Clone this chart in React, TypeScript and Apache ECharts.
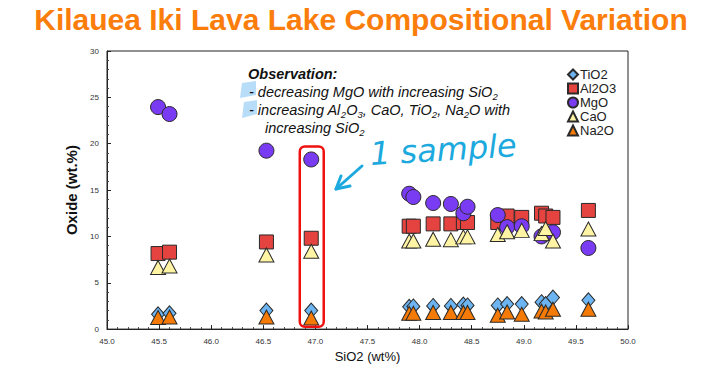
import React, { useEffect, useRef } from "react";
import * as echarts from "echarts";

const sio2 = [45.49, 45.6, 46.53, 46.96, 47.9, 47.94, 48.13, 48.3, 48.42, 48.46, 48.75, 48.84, 48.98, 49.17, 49.21, 49.28, 49.62];
const tio2 = [1.6, 1.7, 2.0, 2.0, 2.4, 2.45, 2.5, 2.5, 2.65, 2.55, 2.55, 2.7, 2.7, 2.9, 2.7, 3.4, 3.1];
const al2o3 = [8.15, 8.3, 9.4, 9.8, 11.1, 11.1, 11.35, 11.35, 11.5, 11.5, 11.5, 12.2, 12.05, 12.5, 12.2, 12.05, 12.8];
const mgo = [23.95, 23.2, 19.25, 18.3, 14.6, 14.25, 13.6, 13.5, 12.5, 13.2, 12.3, 11.0, 11.1, 10.0, 10.3, 10.45, 8.75];
const cao = [6.65, 6.8, 8.0, 8.4, 9.5, 9.5, 9.7, 9.65, 9.95, 9.95, 10.2, 10.5, 10.65, 10.3, 10.85, 9.5, 10.8];
const na2o = [1.25, 1.3, 1.3, 1.2, 1.7, 1.7, 1.8, 1.8, 1.8, 1.8, 1.5, 1.85, 1.6, 1.95, 1.85, 2.15, 2.15];

const seriesNames = ["TiO2", "Al2O3", "MgO", "CaO", "Na2O"];
const seriesValues = [tio2, al2o3, mgo, cao, na2o];
const seriesSymbols = ["diamond", "rect", "circle", "triangle", "triangle"];
const seriesColors = ["#6db5f2", "#e5433f", "#7a3cf3", "#fff4a3", "#f57a06"];

const titleText = "Kilauea Iki Lava Lake Compositional Variation";
const highlightSample = 46.96;

export default function App() {
  const ref = useRef<HTMLDivElement>(null);
  useEffect(() => {
    if (!ref.current) return;
    const chart = echarts.init(ref.current, undefined, { renderer: "svg" });
    const font = "'Liberation Sans', Arial, sans-serif";
    const sizes: any = {
      diamond: [13, 15],
      rect: [14, 14],
      circle: 15,
      triangle: [15, 14],
    };
    chart.setOption({
      animation: false,
      textStyle: { fontFamily: font },
      grid: {
        left: 107,
        right: 74,
        top: 51,
        bottom: 38,
        show: true,
        borderColor: "#222",
        borderWidth: 1,
      },
      legend: {
        orient: "vertical",
        left: 562,
        top: 63,
        itemWidth: 10,
        itemHeight: 10,
        itemGap: 1,
        textStyle: { fontSize: 13, color: "#222", padding: [0, 0, 0, -3] },
        data: seriesNames,
      },
      xAxis: {
        type: "value",
        min: 45,
        max: 50,
        interval: 0.5,
        name: "SiO2 (wt%)",
        nameLocation: "middle",
        nameGap: 16,
        nameTextStyle: { fontSize: 13, color: "#111" },
        axisLine: { lineStyle: { color: "#222" } },
        axisTick: { inside: true, length: 4, lineStyle: { color: "#222" } },
        minorTick: { show: true, splitNumber: 5, length: 2, lineStyle: { color: "#444" } },
        splitLine: { show: false },
        axisLabel: { fontSize: 8, color: "#333", margin: 8, formatter: (v: number) => v.toFixed(1) },
      },
      yAxis: {
        type: "value",
        min: 0,
        max: 30,
        interval: 5,
        name: "Oxide (wt.%)",
        nameLocation: "middle",
        nameGap: 26,
        nameTextStyle: { fontSize: 15, fontWeight: "bold", color: "#111" },
        axisLine: { show: true, lineStyle: { color: "#222" } },
        axisTick: { show: true, inside: true, length: 4, lineStyle: { color: "#222" } },
        minorTick: { show: true, splitNumber: 5, length: 2, lineStyle: { color: "#444" } },
        splitLine: { show: false },
        axisLabel: { fontSize: 8, color: "#333", margin: 8 },
      },
      series: seriesNames.map((name, i) => ({
        name,
        type: "scatter",
        symbol: seriesSymbols[i],
        symbolSize: sizes[seriesSymbols[i]],
        itemStyle: { color: seriesColors[i], borderColor: "#2a2a2a", borderWidth: 1, opacity: 1 },
        data: sio2.map((x, j) => [x, seriesValues[i][j]]),
        z: 2 + i,
      })),
    });

    const p1 = chart.convertToPixel({ gridIndex: 0 }, [highlightSample - 0.11, 0.25]) as number[];
    const p2 = chart.convertToPixel({ gridIndex: 0 }, [highlightSample + 0.12, 19.7]) as number[];

    const rich = {
      s: { fontSize: 9.5, fontStyle: "italic", fontFamily: font, verticalAlign: "bottom", lineHeight: 11, fill: "#111" },
    };
    const obsStyle = { fontSize: 14.5, fontStyle: "italic", fontFamily: font, fill: "#111", lineHeight: 18, rich };

    chart.setOption({
      graphic: [
        {
          type: "text",
          x: 361,
          y: 19,
          style: {
            text: titleText,
            fontSize: 30,
            fontWeight: "bold",
            fontFamily: "'Liberation Sans Narrow', 'Liberation Sans', Arial, sans-serif",
            fill: "#fb7d0b",
            align: "center",
            verticalAlign: "middle",
          },
        },
        {
          type: "polygon",
          shape: { points: [[242, 83], [256, 81], [256, 95], [240, 98]] },
          style: { fill: "#b8ddf9" },
          z: 10,
        },
        {
          type: "polygon",
          shape: { points: [[244, 102], [257, 100], [257, 114], [242, 118]] },
          style: { fill: "#b8ddf9" },
          z: 10,
        },
        {
          type: "text",
          x: 248,
          y: 74,
          z: 11,
          style: { text: "Observation:", fontSize: 14.5, fontStyle: "italic", fontWeight: "bold", fontFamily: font, fill: "#111", verticalAlign: "middle" },
        },
        {
          type: "text",
          x: 249,
          y: 83,
          z: 11,
          style: { ...obsStyle, text: "- decreasing MgO with increasing SiO{s|2}" },
        },
        {
          type: "text",
          x: 249,
          y: 101,
          z: 11,
          style: { ...obsStyle, text: "- increasing Al{s|2}O{s|3}, CaO, TiO{s|2}, Na{s|2}O with" },
        },
        {
          type: "text",
          x: 265,
          y: 119,
          z: 11,
          style: { ...obsStyle, text: "increasing SiO{s|2}" },
        },
        {
          type: "rect",
          shape: { x: p1[0], y: p2[1], width: p2[0] - p1[0], height: p1[1] - p2[1], r: 5 },
          style: { fill: "none", stroke: "#f01010", lineWidth: 2.5 },
          z: 20,
        },
        {
          type: "text",
          x: 370,
          y: 154,
          rotation: 0.06,
          z: 20,
          style: {
            text: "1 sample",
            fontSize: 32,
            fontStyle: "italic",
            fontFamily: "'DejaVu Sans', sans-serif",
            fontWeight: "normal",
            fill: "#1ca9de",
            verticalAlign: "middle",
          },
        },
        {
          type: "polyline",
          shape: { points: [[362, 166], [336, 189]] },
          style: { stroke: "#1ca9de", lineWidth: 3, lineCap: "round", fill: "none" },
          z: 20,
        },
        {
          type: "polyline",
          shape: { points: [[341, 176], [336, 189], [350, 186]] },
          style: { stroke: "#1ca9de", lineWidth: 3, lineCap: "round", lineJoin: "round", fill: "none" },
          z: 20,
        },
      ],
    });
    return () => chart.dispose();
  }, []);
  return (
    <div
      ref={ref}
      style={{ width: 702, height: 368, position: "fixed", left: 0, top: 0, background: "#fff" }}
    />
  );
}
